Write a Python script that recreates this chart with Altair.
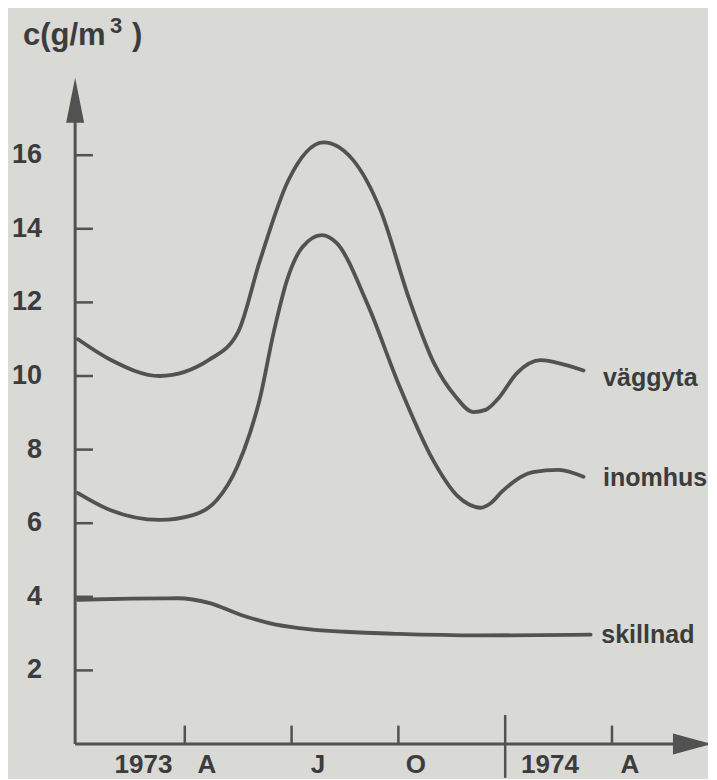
import altair as alt
import pandas as pd

# ---- data (x = months since Jan 1973) ----
vagg_month = [0, 0.9, 2.3, 3.7, 4.5, 5.1, 5.9, 6.9, 7.7, 8.5, 9.3, 10.0, 10.6, 11.1, 11.45, 11.8, 12.33, 13.0, 13.5, 14.2]
vagg_value = [11.0, 10.45, 10.0, 10.45, 11.2, 13.1, 15.3, 16.35, 15.9, 14.5, 12.1, 10.35, 9.45, 9.02, 9.08, 9.38, 10.08, 10.43, 10.35, 10.15]

inom_month = [0, 0.9, 2.3, 3.23, 3.9, 4.47, 4.83, 5.1, 5.5, 5.87, 6.3, 6.85, 7.27, 8.12, 9.04, 9.97, 10.65, 11.0, 11.3, 11.6, 11.9, 12.78, 13.5, 14.2]
inom_value = [6.82, 6.36, 6.09, 6.22, 6.63, 7.53, 8.45, 9.35, 11.2, 12.6, 13.5, 13.83, 13.61, 11.98, 9.70, 7.72, 6.75, 6.5, 6.42, 6.55, 6.85, 7.39, 7.45, 7.26]

skil_month = [0, 1.5, 2.8, 3.7, 4.6, 5.4, 6.2, 7.5, 9.0, 11.3, 14.4]
skil_value = [3.92, 3.95, 3.96, 3.83, 3.5, 3.28, 3.15, 3.05, 2.99, 2.95, 2.97]

series_names = ["väggyta", "inomhus", "skillnad"]
series_label_month = [14.75, 14.75, 14.7]
series_label_value = [9.95, 7.23, 2.96]

y_ticks = [2, 4, 6, 8, 10, 12, 14, 16]
x_ticks = [3, 6, 9, 15]
year_break = [12]
x_labels = ["1973", "A", "J", "O", "1974", "A"]
x_label_pos = [1.84, 3.62, 6.74, 9.49, 13.26, 15.5]

# ---- styling ----
BG = "#d9d9d6"
INK = "#525252"
TXT = "#3c3c3c"
FONT = "Liberation Sans, sans-serif"

X_DOMAIN = [-1.966, 17.697]
Y_DOMAIN = [-0.951, 20.0]
xs = alt.Scale(domain=X_DOMAIN, nice=False, zero=False)
ys = alt.Scale(domain=Y_DOMAIN, nice=False, zero=False)
AXIS_X = -0.08

curves = pd.concat([
    pd.DataFrame({"month": vagg_month, "value": vagg_value, "series": "väggyta"}),
    pd.DataFrame({"month": inom_month, "value": inom_value, "series": "inomhus"}),
    pd.DataFrame({"month": skil_month, "value": skil_value, "series": "skillnad"}),
])

X = lambda f: alt.X(f, scale=xs, axis=None)
Y = lambda f: alt.Y(f, scale=ys, axis=None)

lines = alt.Chart(curves).mark_line(
    interpolate="monotone", strokeWidth=3.8, color=INK, strokeCap="round"
).encode(x=X("month:Q"), y=Y("value:Q"), detail="series:N")

# axes lines
yaxis = alt.Chart(pd.DataFrame({"x": [AXIS_X], "y": [0.0], "y2": [16.9]})).mark_rule(
    color=INK, strokeWidth=3).encode(x=X("x:Q"), y=Y("y:Q"), y2="y2:Q")
xaxis = alt.Chart(pd.DataFrame({"x": [AXIS_X], "x2": [16.75], "y": [0.0]})).mark_rule(
    color=INK, strokeWidth=3).encode(x=X("x:Q"), x2="x2:Q", y=Y("y:Q"))

ytick_df = pd.DataFrame({"v": y_ticks, "x": AXIS_X, "x2": 0.42})
yticks = alt.Chart(ytick_df).mark_rule(color=INK, strokeWidth=2.5).encode(
    x=X("x:Q"), x2="x2:Q", y=Y("v:Q"))

xtick_df = pd.DataFrame({"m": x_ticks, "y": 0.0, "y2": 0.5})
xticks = alt.Chart(xtick_df).mark_rule(color=INK, strokeWidth=2.5).encode(
    x=X("m:Q"), y=Y("y:Q"), y2="y2:Q")

yb_df = pd.DataFrame({"m": year_break, "y": -0.92, "y2": 0.79})
ybreak = alt.Chart(yb_df).mark_rule(color=INK, strokeWidth=2.5).encode(
    x=X("m:Q"), y=Y("y:Q"), y2="y2:Q")

# arrow heads
yarrow = alt.Chart(pd.DataFrame({"x": [AXIS_X], "y": [17.49]})).mark_point(
    shape="M0,-1L0.4,1L-0.4,1Z", size=2025, filled=True, opacity=1, color=INK, strokeWidth=0
).encode(x=X("x:Q"), y=Y("y:Q"))
xarrow = alt.Chart(pd.DataFrame({"x": [17.26], "y": [0.0]})).mark_point(
    shape="M1,0L-1,-0.54L-1,0.54Z", size=1521, filled=True, opacity=1, color=INK, strokeWidth=0
).encode(x=X("x:Q"), y=Y("y:Q"))

# tick labels
ylab_df = pd.DataFrame({"v": y_ticks, "t": [str(v) for v in y_ticks], "x": -1.01})
ylabels = alt.Chart(ylab_df).mark_text(
    align="right", baseline="middle", font=FONT, fontSize=27, fontWeight="bold", color=TXT
).encode(x=X("x:Q"), y=Y("v:Q"), text="t:N")

xlab_df = pd.DataFrame({"m": x_label_pos, "t": x_labels, "y": -0.8})
xlabels = alt.Chart(xlab_df).mark_text(
    align="center", baseline="alphabetic", font=FONT, fontSize=26, fontWeight="bold", color=TXT
).encode(x=X("m:Q"), y=Y("y:Q"), text="t:N")

# series labels
slab_df = pd.DataFrame({"m": series_label_month, "v": series_label_value, "t": series_names})
slabels = alt.Chart(slab_df).mark_text(
    align="left", baseline="middle", font=FONT, fontSize=25, fontWeight="bold", color=TXT
).encode(x=X("m:Q"), y=Y("v:Q"), text="t:N")

# axis title c(g/m^3)
title_df = pd.DataFrame({"m": [-1.545], "v": [19.0]})
tbase = alt.Chart(title_df)
t1 = tbase.mark_text(align="left", baseline="alphabetic", font=FONT, fontSize=31,
                     fontWeight="bold", color=TXT, text="c(g/m").encode(x=X("m:Q"), y=Y("v:Q"))
t2 = tbase.mark_text(align="left", baseline="alphabetic", font=FONT, fontSize=22,
                     fontWeight="bold", color=TXT, text="3", dx=87, dy=-12).encode(x=X("m:Q"), y=Y("v:Q"))
t3 = tbase.mark_text(align="left", baseline="alphabetic", font=FONT, fontSize=31,
                     fontWeight="bold", color=TXT, text=")", dx=109).encode(x=X("m:Q"), y=Y("v:Q"))

chart = alt.layer(
    yaxis, xaxis, yticks, xticks, ybreak, yarrow, xarrow, lines,
    ylabels, xlabels, slabels, t1, t2, t3
).properties(
    width=700, height=771, background=BG, padding=0,
    autosize=alt.AutoSizeParams(type="none")
).configure_view(stroke=None)

chart.save("out.html", embed_options={"renderer": "svg", "actions": False})
